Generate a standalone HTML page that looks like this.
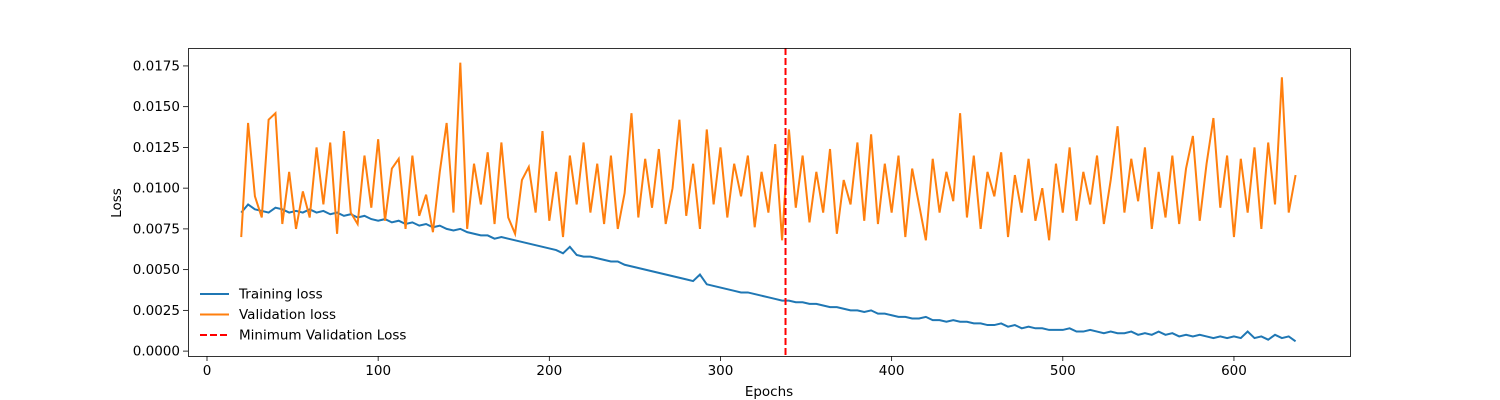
<!DOCTYPE html>
<html><head><meta charset="utf-8"><style>
html,body{margin:0;padding:0;background:#fff;}
svg{display:block;font-family:"DejaVu Sans","Liberation Sans",sans-serif;}
</style></head><body>
<svg id="chart" width="1500" height="400" viewBox="0 0 1500 400">
<rect x="0" y="0" width="1500" height="400" fill="#fff"/>
<g id="plot"></g>
<g id="axes"></g>
</svg>
<script>
const startEpoch = 20;
const epochStep = 4;
const trainLoss = [0.0085,0.0090,0.0087,0.0086,0.0085,0.0088,0.0087,0.0085,0.0086,0.0085,0.0087,0.0085,0.0086,0.0084,0.0085,0.0083,0.0084,0.0082,0.0083,0.0081,0.0080,0.0081,0.0079,0.0080,0.0078,0.0079,0.0077,0.0078,0.0076,0.0077,0.0075,0.0074,0.0075,0.0073,0.0072,0.0071,0.0071,0.0069,0.0070,0.0069,0.0068,0.0067,0.0066,0.0065,0.0064,0.0063,0.0062,0.0060,0.0064,0.0059,0.0058,0.0058,0.0057,0.0056,0.0055,0.0055,0.0053,0.0052,0.0051,0.0050,0.0049,0.0048,0.0047,0.0046,0.0045,0.0044,0.0043,0.0047,0.0041,0.0040,0.0039,0.0038,0.0037,0.0036,0.0036,0.0035,0.0034,0.0033,0.0032,0.0031,0.0031,0.0030,0.0030,0.0029,0.0029,0.0028,0.0027,0.0027,0.0026,0.0025,0.0025,0.0024,0.0025,0.0023,0.0023,0.0022,0.0021,0.0021,0.0020,0.0020,0.0021,0.0019,0.0019,0.0018,0.0019,0.0018,0.0018,0.0017,0.0017,0.0016,0.0016,0.0017,0.0015,0.0016,0.0014,0.0015,0.0014,0.0014,0.0013,0.0013,0.0013,0.0014,0.0012,0.0012,0.0013,0.0012,0.0011,0.0012,0.0011,0.0011,0.0012,0.0010,0.0011,0.0010,0.0012,0.0010,0.0011,0.0009,0.0010,0.0009,0.0010,0.0009,0.0008,0.0009,0.0008,0.0009,0.0008,0.0012,0.0008,0.0009,0.0007,0.0010,0.0008,0.0009,0.0006];
const valLoss = [0.0070,0.0140,0.0095,0.0082,0.0142,0.0146,0.0078,0.0110,0.0075,0.0098,
0.0082,0.0125,0.0090,0.0128,0.0072,0.0135,0.0085,0.0078,0.0120,0.0088,
0.0130,0.0080,0.0112,0.0118,0.0075,0.0120,0.0083,0.0096,0.0073,0.0110,
0.0140,0.0085,0.0177,0.0075,0.0115,0.0090,0.0122,0.0078,0.0128,0.0082,
0.0072,0.0105,0.0113,0.0085,0.0135,0.0080,0.0110,0.0070,0.0120,0.0090,
0.0128,0.0085,0.0115,0.0078,0.0120,0.0075,0.0097,0.0146,0.0082,0.0118,
0.0088,0.0124,0.0078,0.0100,0.0142,0.0083,0.0115,0.0075,0.0136,0.0090,
0.0125,0.0082,0.0115,0.0095,0.0120,0.0076,0.0110,0.0085,0.0127,0.0068,
0.0136,0.0088,0.0120,0.0079,0.0110,0.0085,0.0124,0.0072,0.0105,0.0090,
0.0128,0.0080,0.0133,0.0078,0.0115,0.0085,0.0120,0.0070,0.0112,0.0090,
0.0068,0.0118,0.0085,0.0110,0.0092,0.0146,0.0082,0.0120,0.0075,0.0110,
0.0095,0.0122,0.0070,0.0108,0.0085,0.0118,0.0080,0.0100,0.0068,0.0115,
0.0085,0.0125,0.0080,0.0110,0.0090,0.0120,0.0078,0.0105,0.0138,0.0085,
0.0118,0.0092,0.0125,0.0075,0.0110,0.0082,0.0120,0.0078,0.0112,0.0132,
0.0080,0.0115,0.0143,0.0088,0.0120,0.0070,0.0118,0.0085,0.0125,0.0075,
0.0128,0.0090,0.0168,0.0085,0.0108];
const minValEpoch = 338;
const xTicks = [0,100,200,300,400,500,600];
const yTicks = [0,0.0025,0.005,0.0075,0.01,0.0125,0.015,0.0175];
const yTickLabels = ["0.0000","0.0025","0.0050","0.0075","0.0100","0.0125","0.0150","0.0175"];

const NS = "http://www.w3.org/2000/svg";
const L=188,R=1350,T=48,B=356;
const xMin=-11.1,xMax=667.8,yMin=-0.0003,yMax=0.0186;
function sx(v){return L+(v-xMin)/(xMax-xMin)*(R-L);}
function sy(v){return B-(v-yMin)/(yMax-yMin)*(B-T);}
function mk(tag,attrs,parent){const e=document.createElementNS(NS,tag);for(const k in attrs)e.setAttribute(k,attrs[k]);parent.appendChild(e);return e;}
const plot=document.getElementById('plot'), axes=document.getElementById('axes');

function linePath(vals){return vals.map((v,i)=>(i?'L':'M')+sx(startEpoch+i*epochStep).toFixed(2)+','+sy(v).toFixed(2)).join('');}
const tl=mk('path',{d:linePath(trainLoss),fill:'none',stroke:'#1f77b4','stroke-width':2},plot);


const vl=mk('path',{d:linePath(valLoss),fill:'none',stroke:'#ff7f0e','stroke-width':2},plot);


const ml=mk('line',{x1:sx(minValEpoch),x2:sx(minValEpoch),y1:T,y2:B,stroke:'#ff0000','stroke-width':2,'stroke-dasharray':'7,3'},plot);



const frame=mk('rect',{x:L+0.5,y:T+0.5,width:R-L,height:B-T,fill:'none',stroke:'#000','stroke-width':0.8},axes);



xTicks.forEach(t=>{
  const x=sx(t);
  const tk=mk('line',{x1:x,x2:x,y1:B,y2:B+5,stroke:'#000','stroke-width':0.8},axes);
  
  
  const tx=mk('text',{x:x,y:B+19,'text-anchor':'middle','font-size':13.5,fill:'#000'},axes);
  tx.textContent=String(t);
  
  
});
yTicks.forEach((t,i)=>{
  const y=sy(t);
  const tk=mk('line',{x1:L-5,x2:L,y1:y,y2:y,stroke:'#000','stroke-width':0.8},axes);
  
  
  const tx=mk('text',{x:L-8,y:y+4.5,'text-anchor':'end','font-size':13.5,fill:'#000'},axes);
  tx.textContent=yTickLabels[i];
  
  
});
const xt=mk('text',{x:(L+R)/2,y:396,'text-anchor':'middle','font-size':13.5,fill:'#000'},axes);
xt.textContent='Epochs';


const yt=mk('text',{x:0,y:0,'text-anchor':'middle','font-size':13.5,fill:'#000',transform:'translate(121,203) rotate(-90)'},axes);
yt.textContent='Loss';



const legendItems=[['Training loss','#1f77b4',''],['Validation loss','#ff7f0e',''],['Minimum Validation Loss','#ff0000','7,3']];
legendItems.forEach((it,i)=>{
  const y=294+i*20.5;
  const g=mk('g',{},axes);
  
  
  const a={x1:200,x2:229,y1:y,y2:y,stroke:it[1],'stroke-width':2};
  if(it[2])a['stroke-dasharray']=it[2];
  mk('line',a,g);
  const tx=mk('text',{x:239,y:y+4.5,'font-size':13.5,fill:'#000'},g);
  tx.textContent=it[0];
});
</script>
</body></html>
